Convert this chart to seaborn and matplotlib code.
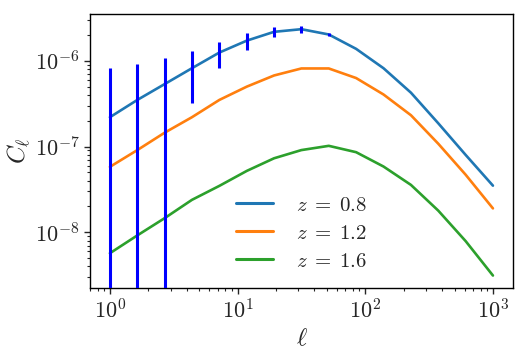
import numpy as np
import pandas as pd
import matplotlib
matplotlib.use("Agg")
import matplotlib.pyplot as plt
import seaborn as sns

ell = [1.0, 1.64, 2.68, 4.39, 7.2, 11.8, 19.3, 31.6, 51.8, 84.8, 139.0, 228.0, 373.0, 611.0, 1000.0]
cl_z08 = [2.2e-7, 3.5e-7, 5.35e-7, 8.2e-7, 1.25e-6, 1.72e-6, 2.18e-6, 2.34e-6, 2.03e-6,
          1.38e-6, 8.2e-7, 4.25e-7, 1.87e-7, 8.0e-8, 3.5e-8]
cl_z12 = [5.8e-8, 9.1e-8, 1.45e-7, 2.2e-7, 3.5e-7, 5.0e-7, 6.75e-7, 8.15e-7, 8.15e-7,
          6.3e-7, 4.05e-7, 2.32e-7, 1.08e-7, 4.7e-8, 1.9e-8]
cl_z16 = [5.7e-9, 9.2e-9, 1.46e-8, 2.39e-8, 3.48e-8, 5.2e-8, 7.3e-8, 9.1e-8, 1.02e-7,
          8.6e-8, 5.85e-8, 3.57e-8, 1.79e-8, 7.9e-9, 3.13e-9]
err_z08 = [6.0e-7, 5.6e-7, 5.4e-7, 5.0e-7, 4.2e-7, 3.7e-7, 2.9e-7, 2.0e-7, 9.0e-8,
           1.0e-8, 0.0, 0.0, 0.0, 0.0, 0.0]
labels = [r"$z\;=\;0.8$", r"$z\;=\;1.2$", r"$z\;=\;1.6$"]

df = pd.DataFrame({
    "ell": ell * 3,
    "cl": cl_z08 + cl_z12 + cl_z16,
    "z": [labels[0]] * len(ell) + [labels[1]] * len(ell) + [labels[2]] * len(ell),
})

sns.set_style("ticks")
plt.rcParams["font.family"] = "serif"
plt.rcParams["font.serif"] = ["cmr10", "DejaVu Serif"]
plt.rcParams["mathtext.fontset"] = "cm"
plt.rcParams["axes.formatter.use_mathtext"] = True
plt.rcParams["axes.unicode_minus"] = True

fig = plt.figure(figsize=(5.27, 3.56), dpi=100)
ax = fig.add_axes([0.171, 0.191, 0.802, 0.770])

sns.lineplot(data=df, x="ell", y="cl", hue="z", palette=["#1f77b4", "#ff7f0e", "#2ca02c"],
             linewidth=1.9, ax=ax)
ax.errorbar(ell, cl_z08, yerr=err_z08, fmt="none", ecolor="blue", elinewidth=2.2, zorder=3)

ax.set_xscale("log")
ax.set_yscale("log")
ax.set_xlim(0.7, 1430)
ax.set_ylim(2.24e-9, 3.53e-6)
ax.set_xlabel(r"$\ell$", fontsize=18, labelpad=4)
ax.set_ylabel(r"$C_\ell$", fontsize=18, labelpad=1)
ax.tick_params(axis="both", which="major", labelsize=16, direction="out", length=4, width=1)
ax.tick_params(axis="both", which="minor", direction="out", length=2.5, width=0.8)
for s in ax.spines.values():
    s.set_visible(True)
    s.set_color("black")
    s.set_linewidth(1.0)

leg = ax.legend(loc="lower center", bbox_to_anchor=(0.5, -0.005), frameon=False, fontsize=15,
                handlelength=1.8, handletextpad=1.1, labelspacing=0.45)
for h in leg.get_lines():
    h.set_linewidth(2.2)

fig.savefig("out.png", dpi=100)
